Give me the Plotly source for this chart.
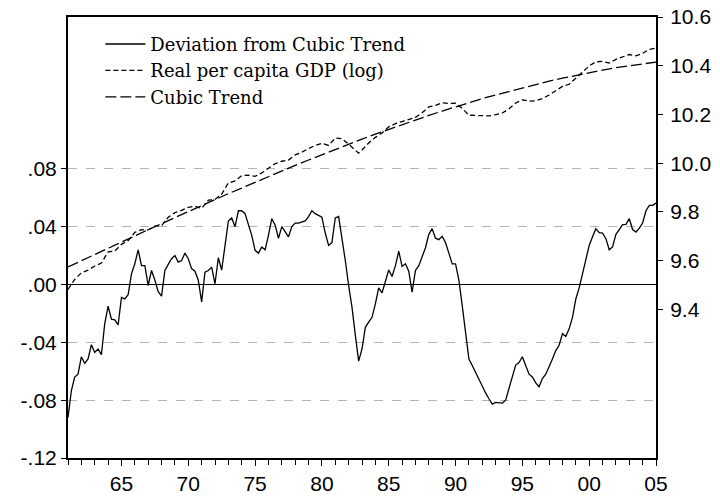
import plotly.graph_objects as go

# Deviation from cubic trend, quarterly 1961Q1..2005Q1 (left axis)
dev_values = [
    -0.092, -0.0735, -0.064, -0.062,
    -0.050, -0.0545, -0.0515, -0.0416,
    -0.047, -0.0446, -0.0485, -0.027,
    -0.015, -0.024, -0.0245, -0.028,
    -0.009, -0.010, -0.007, 0.0074,
    0.0143, 0.024, 0.013, 0.013,
    -0.0007, 0.0097, 0.003, -0.005,
    -0.008, 0.0097, 0.0139, 0.0178,
    0.020, 0.0155, 0.0166, 0.0217,
    0.0178, 0.011, 0.0092, 0.003,
    -0.012, 0.0085, 0.0097, 0.012,
    0.0005, 0.0185, 0.010, 0.027,
    0.0439, 0.046, 0.040, 0.051,
    0.051, 0.049, 0.041, 0.034,
    0.0236, 0.0217, 0.026, 0.024,
    0.034, 0.0455, 0.041, 0.032,
    0.040, 0.036, 0.033, 0.040,
    0.0425, 0.0425, 0.043, 0.044,
    0.047, 0.051, 0.049, 0.048,
    0.0466, 0.0356, 0.027, 0.029,
    0.046, 0.047, 0.033, 0.0166,
    -0.0007, -0.0157, -0.035, -0.053,
    -0.0446, -0.0296, -0.026, -0.0227,
    -0.0134, -0.0023, -0.0058, 0.003,
    0.010, 0.0055, 0.013, 0.023,
    0.0125, 0.0143, 0.0092, -0.0053,
    0.0097, 0.013, 0.020, 0.0254,
    0.0347, 0.0386, 0.032, 0.031,
    0.0333, 0.029, 0.0217, 0.0143,
    0.0143, 0.003, -0.0146, -0.032,
    -0.0515, -0.056, -0.061, -0.065,
    -0.071, -0.075, -0.079, -0.0827,
    -0.0815, -0.0815, -0.082, -0.080,
    -0.072, -0.063, -0.0557, -0.054,
    -0.050, -0.056, -0.062, -0.064,
    -0.068, -0.0707, -0.065, -0.062,
    -0.057, -0.0515, -0.0457, -0.042,
    -0.034, -0.036, -0.0307, -0.0227,
    -0.010, -0.0023, 0.0074, 0.0178,
    0.027, 0.033, 0.0386, 0.0358,
    0.0356, 0.0317, 0.024, 0.026,
    0.0347, 0.038, 0.0414, 0.0416,
    0.0455, 0.038, 0.0363, 0.039,
    0.0425, 0.051, 0.0547, 0.0547,
    0.0563,
]
dev_dates = [1961 + q / 4 for q in range(len(dev_values))]

# Real per capita GDP (log), read about twice a year (right axis)
gdp_dates = [
    1961.0, 1961.5, 1962.0, 1962.5, 1963.0, 1963.5, 1964.0, 1964.5,
    1965.0, 1965.5, 1966.0, 1966.5, 1967.0, 1967.5, 1968.0, 1968.5,
    1969.0, 1969.5, 1970.0, 1970.5, 1971.0, 1971.5, 1972.0, 1972.5,
    1973.0, 1973.5, 1974.0, 1974.5, 1975.0, 1975.5, 1976.0, 1976.5,
    1977.0, 1977.5, 1978.0, 1978.5, 1979.0, 1979.5, 1980.0, 1980.5,
    1981.0, 1981.5, 1982.0, 1982.5, 1982.75, 1983.0, 1983.5, 1984.0,
    1984.5, 1985.0, 1985.5, 1986.0, 1986.5, 1987.0, 1987.5, 1988.0,
    1988.5, 1989.0, 1989.5, 1990.0, 1990.5, 1991.0, 1991.5, 1992.0,
    1992.5, 1993.0, 1993.5, 1994.0, 1994.5, 1995.0, 1995.5, 1996.0,
    1996.5, 1997.0, 1997.5, 1998.0, 1998.5, 1999.0, 1999.5, 2000.0,
    2000.5, 2001.0, 2001.5, 2002.0, 2002.5, 2003.0, 2003.5, 2004.0,
    2004.5, 2005.0,
]
gdp_values = [
    9.482, 9.523, 9.550, 9.561, 9.578, 9.590, 9.636, 9.639,
    9.667, 9.682, 9.716, 9.727, 9.726, 9.742, 9.744, 9.778,
    9.797, 9.806, 9.819, 9.823, 9.814, 9.848, 9.851, 9.873,
    9.919, 9.927, 9.949, 9.951, 9.946, 9.960, 9.979, 9.998,
    10.008, 10.013, 10.034, 10.045, 10.060, 10.073, 10.082, 10.073,
    10.103, 10.101, 10.078, 10.054, 10.041, 10.054, 10.083, 10.106,
    10.124, 10.149, 10.162, 10.171, 10.178, 10.188, 10.207, 10.231,
    10.237, 10.248, 10.245, 10.246, 10.225, 10.197, 10.196, 10.194,
    10.194, 10.199, 10.206, 10.223, 10.247, 10.260, 10.255, 10.256,
    10.265, 10.280, 10.297, 10.315, 10.324, 10.351, 10.374, 10.399,
    10.416, 10.418, 10.411, 10.426, 10.437, 10.446, 10.441, 10.451,
    10.467, 10.472,
]

# Cubic trend, read yearly (right axis)
trend_dates = list(range(1961, 2006))
trend_values = [
    9.574, 9.600, 9.625, 9.651, 9.676, 9.702, 9.727, 9.752, 9.777, 9.802,
    9.826, 9.850, 9.875, 9.898, 9.922, 9.945, 9.968, 9.991, 10.013, 10.035,
    10.057, 10.078, 10.099, 10.119, 10.139, 10.159, 10.178, 10.196, 10.214, 10.232,
    10.248, 10.265, 10.280, 10.295, 10.310, 10.324, 10.337, 10.349, 10.361, 10.372,
    10.382, 10.392, 10.400, 10.408, 10.415,
]

x_tickvals = [1965, 1970, 1975, 1980, 1985, 1990, 1995, 2000, 2005]
x_ticktext = ["65", "70", "75", "80", "85", "90", "95", "00", "05"]
left_tickvals = [-0.12, -0.08, -0.04, 0.0, 0.04, 0.08]
left_ticktext = ["-.12", "-.08", "-.04", ".00", ".04", ".08"]
right_tickvals = [9.4, 9.6, 9.8, 10.0, 10.2, 10.4, 10.6]
right_ticktext = ["9.4", "9.6", "9.8", "10.0", "10.2", "10.4", "10.6"]

fig = go.Figure()
fig.add_trace(go.Scatter(
    x=dev_dates, y=dev_values, mode="lines", name="Deviation from Cubic Trend",
    line=dict(color="black", width=1.3), yaxis="y",
))
fig.add_trace(go.Scatter(
    x=gdp_dates, y=gdp_values, mode="lines", name="Real per capita GDP (log)",
    line=dict(color="black", width=1.3, dash="5px,3px"), yaxis="y2",
))
fig.add_trace(go.Scatter(
    x=trend_dates, y=trend_values, mode="lines", name="Cubic Trend",
    line=dict(color="black", width=1.3, dash="11px,4px"), yaxis="y2",
))

tick_font = dict(family="Liberation Sans, Arial, sans-serif", size=21, color="black")

fig.update_layout(
    width=720, height=497,
    margin=dict(l=68, r=64, t=17, b=39, autoexpand=False),
    paper_bgcolor="white", plot_bgcolor="white",
    showlegend=True,
    legend=dict(
        x=0.055, y=0.98, xanchor="left", yanchor="top",
        bgcolor="rgba(0,0,0,0)", borderwidth=0,
        font=dict(family="DejaVu Serif, serif", size=18, color="black"),
        tracegroupgap=0, itemwidth=40,
    ),
    xaxis=dict(
        range=[1961, 2005], tickvals=x_tickvals, ticktext=x_ticktext,
        ticks="outside", ticklen=6, tickwidth=1, tickcolor="black",
        minor=dict(dtick=1, tick0=1961, ticks="outside", ticklen=5, tickwidth=1, tickcolor="black", showgrid=False),
        showline=True, linecolor="black", linewidth=2, mirror=True,
        showgrid=False, zeroline=False, tickfont=tick_font, automargin=False,
        ticklabeloverflow="allow",
    ),
    yaxis=dict(
        range=[-0.12, 0.185], tickvals=left_tickvals, ticktext=left_ticktext,
        ticks="outside", ticklen=5, tickwidth=1, tickcolor="black",
        showline=True, linecolor="black", linewidth=2, mirror=True,
        showgrid=True, gridcolor="#b4b4b4", griddash="dash", gridwidth=1,
        zeroline=True, zerolinecolor="black", zerolinewidth=1.3,
        tickfont=tick_font, automargin=False, ticklabeloverflow="allow",
    ),
    yaxis2=dict(
        range=[8.79, 10.6], tickvals=right_tickvals, ticktext=right_ticktext,
        overlaying="y", side="right",
        ticks="outside", ticklen=5, tickwidth=1, tickcolor="black",
        showline=True, linecolor="black", linewidth=2,
        showgrid=False, zeroline=False, tickfont=tick_font, automargin=False,
        ticklabeloverflow="allow", ticklabelstandoff=3,
    ),
)

# Remove the browser's default 8px page margin so the 720x497 figure fills the window.
fig.write_html(
    "out.html",
    config={"displayModeBar": False},
    post_script="document.body.style.margin='0px';",
)
